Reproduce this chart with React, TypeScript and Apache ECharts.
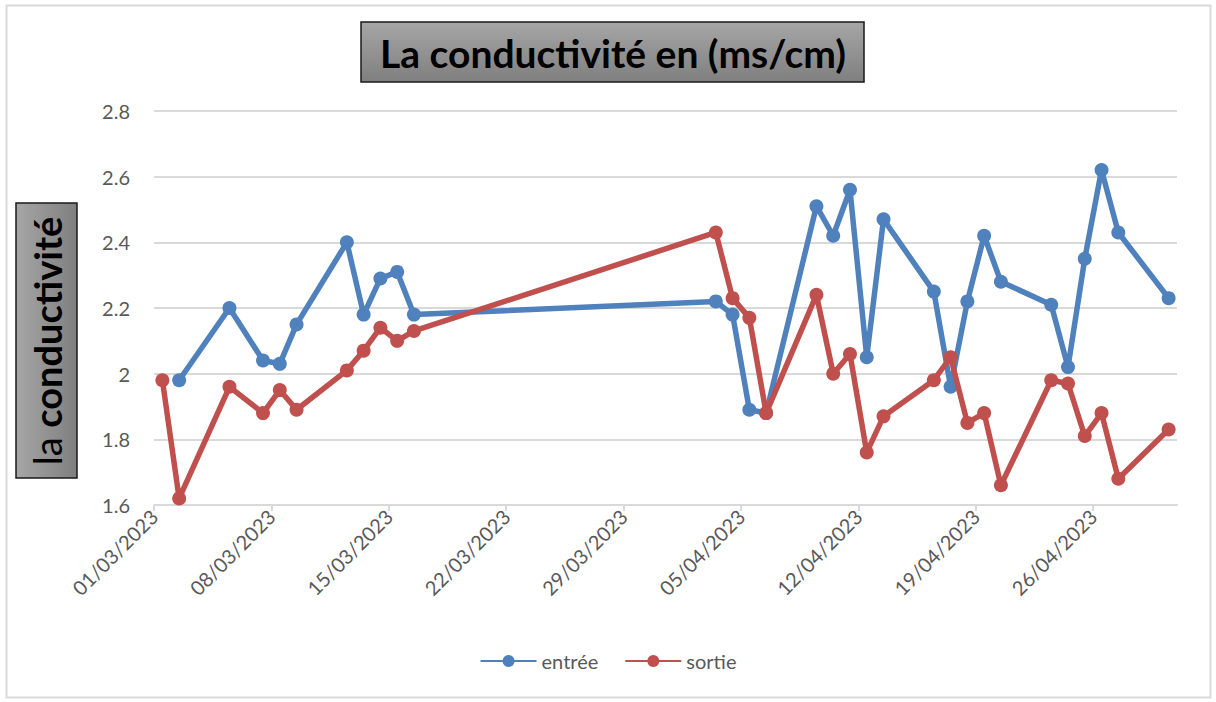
import React, { useEffect, useRef } from "react";
import * as echarts from "echarts";

const dates = [
  "01/03/2023", "02/03/2023", "05/03/2023", "07/03/2023", "08/03/2023", "09/03/2023",
  "12/03/2023", "13/03/2023", "14/03/2023", "15/03/2023", "16/03/2023",
  "03/04/2023", "04/04/2023", "05/04/2023", "06/04/2023", "09/04/2023", "10/04/2023",
  "11/04/2023", "12/04/2023", "13/04/2023", "16/04/2023", "17/04/2023", "18/04/2023",
  "19/04/2023", "20/04/2023", "23/04/2023", "24/04/2023", "25/04/2023", "26/04/2023",
  "27/04/2023", "30/04/2023",
];
const entree = [
  null, 1.98, 2.2, 2.04, 2.03, 2.15,
  2.4, 2.18, 2.29, 2.31, 2.18,
  2.22, 2.18, 1.89, 1.88, 2.51, 2.42,
  2.56, 2.05, 2.47, 2.25, 1.96, 2.22,
  2.42, 2.28, 2.21, 2.02, 2.35, 2.62,
  2.43, 2.23,
];
const sortie = [
  1.98, 1.62, 1.96, 1.88, 1.95, 1.89,
  2.01, 2.07, 2.14, 2.1, 2.13,
  2.43, 2.23, 2.17, 1.88, 2.24, 2.0,
  2.06, 1.76, 1.87, 1.98, 2.05, 1.85,
  1.88, 1.66, 1.98, 1.97, 1.81, 1.88,
  1.68, 1.83,
];
const axisStart = "01/03/2023";
const axisEnd = "01/05/2023";
const seriesNames = ["entrée", "sortie"];
const chartTitle = "La conductivité en (ms/cm)";
const yTitleLight = "la";
const yTitleBold = "conductivité";

const DAY = 86400000;
function parseDate(s: string): number {
  const [d, m, y] = s.split("/").map(Number);
  return Date.UTC(y, m - 1, d);
}
function dayIndex(s: string): number {
  return Math.round((parseDate(s) - parseDate(axisStart)) / DAY);
}
function fmt(idx: number): string {
  const t = new Date(parseDate(axisStart) + idx * DAY);
  const dd = String(t.getUTCDate()).padStart(2, "0");
  const mm = String(t.getUTCMonth() + 1).padStart(2, "0");
  return `${dd}/${mm}/${t.getUTCFullYear()}`;
}

export default function App() {
  const ref = useRef<HTMLDivElement>(null);
  useEffect(() => {
    document.body.style.margin = "0";
    const chart = echarts.init(ref.current!, null, { renderer: "svg" });
    const font = "Lato";
    const toData = (vals: (number | null)[]) =>
      dates.map((d, i) => [dayIndex(d) + 0.5, vals[i]]);
    const grad = (x2: number, y2: number) =>
      new echarts.graphic.LinearGradient(0, 0, x2, y2, [
        { offset: 0, color: "#a6a6a6" },
        { offset: 1, color: "#7f7f7f" },
      ]);
    chart.setOption({
      animation: false,
      backgroundColor: "#ffffff",
      textStyle: { fontFamily: font },
      grid: { left: 154, right: 39, top: 111, bottom: 197 },
      xAxis: {
        type: "value",
        min: 0,
        max: dayIndex(axisEnd),
        interval: 7,
        axisLine: { show: true, lineStyle: { color: "#d9d9d9", width: 2 } },
        axisTick: { show: true, length: 6, lineStyle: { color: "#d9d9d9", width: 2 } },
        splitLine: { show: false },
        axisLabel: {
          rotate: 45,
          margin: 8,
          color: "#595959",
          fontSize: 20,
          fontFamily: font,
          formatter: (v: number) => fmt(v),
          showMaxLabel: false,
        },
      },
      yAxis: {
        type: "value",
        min: 1.6,
        max: 2.8,
        interval: 0.2,
        axisLine: { show: false },
        axisTick: { show: false },
        splitLine: { lineStyle: { color: "#d9d9d9", width: 2 } },
        axisLabel: { color: "#595959", fontSize: 20, fontFamily: font, margin: 24 },
      },
      legend: {
        bottom: 26,
        left: "center",
        itemWidth: 56,
        itemHeight: 15,
        itemGap: 26,
        textStyle: { color: "#595959", fontSize: 20, fontFamily: font },
        data: seriesNames,
      },
      series: [
        {
          name: seriesNames[0],
          type: "line",
          data: toData(entree),
          symbol: "circle",
          symbolSize: 14,
          itemStyle: { color: "#4f81bd" },
          lineStyle: { color: "#4f81bd", width: 5.5 },
          z: 2,
        },
        {
          name: seriesNames[1],
          type: "line",
          data: toData(sortie),
          symbol: "circle",
          symbolSize: 14,
          itemStyle: { color: "#c0504d" },
          lineStyle: { color: "#c0504d", width: 5.5 },
          z: 3,
        },
      ],
      graphic: [
        {
          type: "rect",
          shape: { x: 6.5, y: 5.5, width: 1204, height: 692 },
          style: { fill: "none", stroke: "#d9d9d9", lineWidth: 2 },
          silent: true,
        },
        {
          type: "rect",
          shape: { x: 361, y: 22, width: 503, height: 60 },
          style: { fill: grad(0, 1), stroke: "#1a1a1a", lineWidth: 1.5 },
        },
        {
          type: "text",
          x: 613,
          y: 53,
          style: {
            text: chartTitle,
            fill: "#000000",
            font: `bold 39px ${font}`,
            align: "center",
            verticalAlign: "middle",
          },
        },
        {
          type: "rect",
          shape: { x: 16, y: 203, width: 61, height: 275 },
          style: { fill: grad(1, 0), stroke: "#1a1a1a", lineWidth: 1.5 },
        },
        {
          type: "text",
          x: 47,
          y: 341,
          rotation: Math.PI / 2,
          style: {
            text: `{a|${yTitleLight} }{b|${yTitleBold}}`,
            align: "center",
            verticalAlign: "middle",
            rich: {
              a: { font: `38px ${font}`, fill: "#000000" },
              b: { font: `bold 38px ${font}`, fill: "#000000" },
            },
          },
        },
      ],
    });
    return () => chart.dispose();
  }, []);
  return <div ref={ref} style={{ width: 1216, height: 702 }} />;
}
